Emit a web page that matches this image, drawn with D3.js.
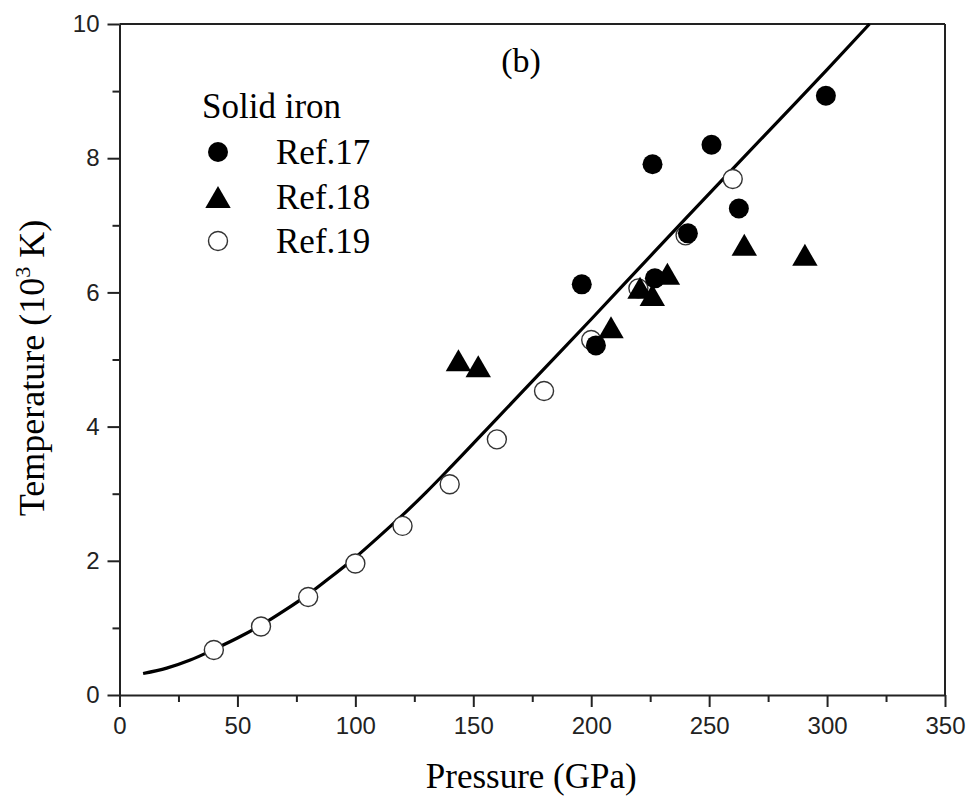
<!DOCTYPE html>
<html>
<head>
<meta charset="utf-8">
<script src="https://cdn.jsdelivr.net/npm/d3@7"></script>
<style>
  body { margin: 0; background: #fff; }
</style>
</head>
<body>
<div id="chart"></div>
<script>
// data
var curveP = [10, 20, 30, 40, 50, 60, 70, 80, 90, 100, 110, 120, 130, 140, 160, 180, 200, 220, 240, 260, 280, 300, 318];
var curveT = [0.32, 0.40, 0.52, 0.68, 0.85, 1.04, 1.26, 1.50, 1.77, 2.05, 2.36, 2.68, 3.02, 3.38, 4.12, 4.86, 5.60, 6.35, 7.10, 7.84, 8.58, 9.32, 10.0];

var ref17P = [196, 202, 226, 227, 241, 251, 262.6, 299.5];
var ref17T = [6.12, 5.21, 7.91, 6.21, 6.88, 8.20, 7.25, 8.93];

var ref18P = [143.7, 152.1, 208.4, 220.7, 225.9, 232.3, 264.9, 290.6];
var ref18T = [4.99, 4.90, 5.48, 6.07, 5.96, 6.28, 6.71, 6.56];

var ref19P = [40, 60, 80, 100, 120, 140, 160, 180, 200, 220, 240, 260];
var ref19T = [0.67, 1.02, 1.46, 1.96, 2.52, 3.14, 3.81, 4.53, 5.29, 6.06, 6.85, 7.69];

var xTicks = [0, 50, 100, 150, 200, 250, 300, 350];
var yTicks = [0, 2, 4, 6, 8, 10];
var legendLabels = ["Ref.17", "Ref.18", "Ref.19"];

var W = 972, H = 800;
var pLeft = 119.5, pRight = 945, pTop = 24, pBottom = 695;

var svg = d3.select("#chart")
    .append("svg")
    .attr("width", W)
    .attr("height", H);

var x = d3.scaleLinear().domain([0, 350]).range([pLeft, pRight]);
var y = d3.scaleLinear().domain([0, 10]).range([pBottom, pTop]);

var serif = "'Liberation Serif', 'Times New Roman', serif";
var sans = "'Liberation Sans', Arial, sans-serif";

// frame (top + right)
svg.append("line").attr("x1", pLeft).attr("x2", pRight).attr("y1", pTop).attr("y2", pTop)
    .attr("stroke", "#222").attr("stroke-width", 2);
svg.append("line").attr("x1", pRight).attr("x2", pRight).attr("y1", pTop).attr("y2", pBottom)
    .attr("stroke", "#222").attr("stroke-width", 2);

// X axis
var gx = svg.append("g").attr("transform", "translate(0," + pBottom + ")");
gx.call(d3.axisBottom(x).tickValues(d3.range(25, 350, 50)).tickSize(7).tickFormat(""));
gx.call(g => g.select(".domain").remove());
var gx2 = svg.append("g").attr("transform", "translate(0," + pBottom + ")")
    .call(d3.axisBottom(x).tickValues(xTicks).tickSize(12).tickSizeOuter(0).tickPadding(10).tickFormat(d3.format("d")));
gx2.select(".domain").attr("stroke", "#222").attr("stroke-width", 2);
gx2.selectAll("text").attr("font-family", sans).attr("font-size", 24).attr("fill", "#222");

// Y axis
var gy = svg.append("g").attr("transform", "translate(" + pLeft + ",0)");
gy.call(d3.axisLeft(y).tickValues(d3.range(1, 10, 2)).tickSize(7).tickFormat(""));
gy.call(g => g.select(".domain").remove());
var gy2 = svg.append("g").attr("transform", "translate(" + pLeft + ",0)")
    .call(d3.axisLeft(y).tickValues(yTicks).tickSize(12).tickSizeOuter(0).tickPadding(8).tickFormat(d3.format("d")));
gy2.select(".domain").attr("stroke", "#222").attr("stroke-width", 2);
gy2.selectAll("text").attr("font-family", sans).attr("font-size", 24).attr("fill", "#222");

svg.selectAll(".tick line").attr("stroke", "#222").attr("stroke-width", 2);

// axis titles
svg.append("text")
    .attr("x", (pLeft + pRight) / 2 - 1).attr("y", 788)
    .attr("text-anchor", "middle")
    .attr("font-family", serif).attr("font-size", 35)
    .text("Pressure (GPa)");

var yt = svg.append("text")
    .attr("transform", "translate(44,368) rotate(-90)")
    .attr("text-anchor", "middle")
    .attr("font-family", serif).attr("font-size", 36);
yt.append("tspan").text("Temperature (10");
yt.append("tspan").attr("dy", -14).attr("font-size", 22).text("3");
yt.append("tspan").attr("dy", 14).text(" K)");

svg.append("text")
    .attr("x", 521).attr("y", 72)
    .attr("text-anchor", "middle")
    .attr("font-family", serif).attr("font-size", 34)
    .text("(b)");

// curve
var line = d3.line()
    .x(function(d, i) { return x(curveP[i]); })
    .y(function(d, i) { return y(curveT[i]); })
    .curve(d3.curveMonotoneX);
svg.append("path")
    .datum(curveP)
    .attr("d", line)
    .attr("fill", "none")
    .attr("stroke", "#000")
    .attr("stroke-width", 3.2);

// d3 triangle is centred on its centroid; move it so its box is centred
var tri = d3.symbol().type(d3.symbolTriangle).size(280);
var triShift = 3.7;

// Ref.19 open circles
svg.selectAll(".r19")
    .data(ref19P)
    .enter().append("circle")
    .attr("cx", function(d) { return x(d); })
    .attr("cy", function(d, i) { return y(ref19T[i]); })
    .attr("r", 9.5)
    .attr("fill", "#fff")
    .attr("stroke", "#333")
    .attr("stroke-width", 1.4);

// Ref.17 filled circles
svg.selectAll(".r17")
    .data(ref17P)
    .enter().append("circle")
    .attr("cx", function(d) { return x(d); })
    .attr("cy", function(d, i) { return y(ref17T[i]); })
    .attr("r", 10)
    .attr("fill", "#000");

// Ref.18 triangles
svg.selectAll(".r18")
    .data(ref18P)
    .enter().append("path")
    .attr("d", tri)
    .attr("transform", function(d, i) { return "translate(" + x(d) + "," + (y(ref18T[i]) + triShift) + ")"; })
    .attr("fill", "#000");

// legend
svg.append("text")
    .attr("x", 202).attr("y", 118)
    .attr("font-family", serif).attr("font-size", 35)
    .text("Solid iron");

var lg = [152, 197, 241];
svg.append("circle").attr("cx", 218).attr("cy", lg[0]).attr("r", 10).attr("fill", "#000");
svg.append("path").attr("d", tri).attr("transform", "translate(218," + (lg[1] + triShift) + ")").attr("fill", "#000");
svg.append("circle").attr("cx", 218).attr("cy", lg[2]).attr("r", 9.5)
    .attr("fill", "#fff").attr("stroke", "#333").attr("stroke-width", 1.4);

svg.selectAll(".lgtext")
    .data(legendLabels)
    .enter().append("text")
    .attr("x", 276)
    .attr("y", function(d, i) { return lg[i] + 12; })
    .attr("font-family", serif).attr("font-size", 35)
    .text(function(d) { return d; });
</script>
</body>
</html>
